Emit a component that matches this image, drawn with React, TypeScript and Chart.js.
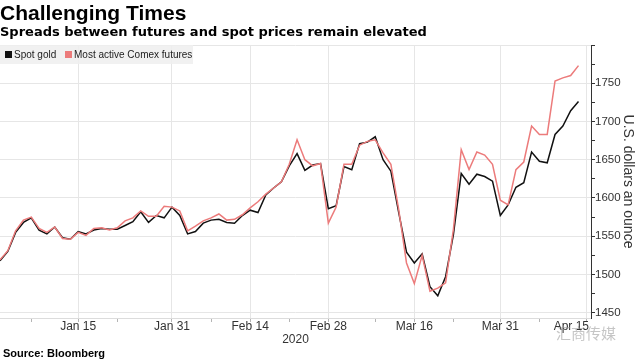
import { useEffect, useRef } from 'react';
import { Chart, registerables } from 'chart.js';

Chart.register(...registerables);

// Trading days (weekdays) shown on the axis, Jan 1 – Apr 15, 2020
const dates = [
  'Jan 1', 'Jan 2', 'Jan 3', 'Jan 6', 'Jan 7', 'Jan 8', 'Jan 9', 'Jan 10', 'Jan 13', 'Jan 14',
  'Jan 15', 'Jan 16', 'Jan 17', 'Jan 20', 'Jan 21', 'Jan 22', 'Jan 23', 'Jan 24', 'Jan 27', 'Jan 28',
  'Jan 29', 'Jan 30', 'Jan 31', 'Feb 3', 'Feb 4', 'Feb 5', 'Feb 6', 'Feb 7', 'Feb 10', 'Feb 11',
  'Feb 12', 'Feb 13', 'Feb 14', 'Feb 17', 'Feb 18', 'Feb 19', 'Feb 20', 'Feb 21', 'Feb 24', 'Feb 25',
  'Feb 26', 'Feb 27', 'Feb 28', 'Mar 2', 'Mar 3', 'Mar 4', 'Mar 5', 'Mar 6', 'Mar 9', 'Mar 10',
  'Mar 11', 'Mar 12', 'Mar 13', 'Mar 16', 'Mar 17', 'Mar 18', 'Mar 19', 'Mar 20', 'Mar 23', 'Mar 24',
  'Mar 25', 'Mar 26', 'Mar 27', 'Mar 30', 'Mar 31', 'Apr 1', 'Apr 2', 'Apr 3', 'Apr 6', 'Apr 7',
  'Apr 8', 'Apr 9', 'Apr 10', 'Apr 13', 'Apr 14', 'Apr 15',
];

const spotGold = [
  1518, 1530, 1555, 1568, 1574, 1558, 1553, 1562, 1548, 1546,
  1556, 1553, 1558, 1560, 1559, 1559, 1564, 1569, 1582, 1568,
  1577, 1574, 1588, 1577, 1553, 1556, 1567, 1571, 1572, 1568,
  1567, 1577, 1584, 1581, 1604, 1613, 1621, 1642, 1658, 1636,
  1643, 1645, 1586, 1590, 1641, 1637, 1671, 1673, 1680, 1650,
  1635, 1581, 1529, 1515, 1527, 1484, 1472, 1497, 1552, 1632,
  1618, 1631, 1628, 1622, 1577, 1591, 1614, 1620, 1660, 1648,
  1646, 1683, 1694, 1714, 1726,
];

const comexFutures = [
  1519, 1531, 1557, 1571, 1575, 1560, 1555, 1562, 1547, 1546,
  1555, 1551, 1560, 1561, 1558, 1561, 1570, 1574, 1583, 1576,
  1576, 1589, 1588, 1583, 1557, 1563, 1570, 1574, 1579, 1571,
  1572, 1578, 1587, 1595, 1605, 1613, 1621, 1644, 1676, 1650,
  1642, 1645, 1567, 1588, 1644, 1644, 1669, 1674, 1676, 1659,
  1644, 1585, 1515, 1488, 1525, 1478, 1482, 1489, 1559, 1663,
  1637, 1660, 1656, 1644, 1597, 1591, 1637, 1647, 1694, 1683,
  1683, 1753, 1757, 1760, 1773,
];

const seriesNames = ['Spot gold', 'Most active Comex futures'];
const majorTickDates = ['Jan 15', 'Jan 31', 'Feb 14', 'Feb 28', 'Mar 16', 'Mar 31', 'Apr 15'];
const minorTickDates = ['Jan 7', 'Jan 22', 'Feb 7', 'Feb 21', 'Mar 9', 'Mar 23', 'Apr 7'];
const yearLabel = '2020';
const yTickValues = [1450, 1475, 1500, 1525, 1550, 1575, 1600, 1625, 1650, 1675, 1700, 1725, 1750, 1775, 1800];
const yLabelValues = [1450, 1500, 1550, 1600, 1650, 1700, 1750];

const FONT = '"Liberation Sans", Arial, sans-serif';
const BLACK = '#111111';
const RED = '#ec7b7b';

const xLabelPlugin = {
  id: 'xLabels',
  afterDraw(chart: any) {
    const { ctx, chartArea } = chart;
    const x = chart.scales.x;
    ctx.save();
    ctx.font = `12px ${FONT}`;
    ctx.fillStyle = '#333333';
    ctx.textBaseline = 'top';
    ctx.textAlign = 'center';
    majorTickDates.forEach((d) => {
      const px = x.getPixelForValue(dates.indexOf(d));
      const w = ctx.measureText(d).width;
      const cx = Math.min(px, chartArea.right - w / 2 - 2);
      ctx.fillText(d, cx, chartArea.bottom + 3);
    });
    ctx.fillText(yearLabel, (chartArea.left + chartArea.right) / 2, chartArea.bottom + 16);
    ctx.restore();
  },
};

export default function App() {
  const canvasRef = useRef<HTMLCanvasElement | null>(null);

  useEffect(() => {
    if (!canvasRef.current) return;
    const chart = new Chart(canvasRef.current, {
      type: 'line',
      data: {
        datasets: [
          {
            label: seriesNames[0],
            data: spotGold.map((v, i) => ({ x: i, y: v })),
            borderColor: BLACK,
            borderWidth: 1.5,
            pointRadius: 0,
            tension: 0,
            order: 2,
          },
          {
            label: seriesNames[1],
            data: comexFutures.map((v, i) => ({ x: i, y: v })),
            borderColor: RED,
            borderWidth: 1.5,
            pointRadius: 0,
            tension: 0,
            order: 1,
          },
        ],
      },
      options: {
        animation: false,
        responsive: false,
        events: [],
        layout: { padding: { top: 45, left: 0, right: 0, bottom: 0 } },
        plugins: {
          legend: { display: false },
          tooltip: { enabled: false },
          title: { display: false },
        },
        scales: {
          x: {
            type: 'linear',
            min: 0,
            max: dates.length - 0.4,
            afterBuildTicks: (scale: any) => {
              scale.ticks = [...majorTickDates, ...minorTickDates]
                .map((d) => dates.indexOf(d))
                .sort((a, b) => a - b)
                .map((v) => ({ value: v }));
            },
            afterFit: (scale: any) => {
              scale.height = 42;
            },
            ticks: { display: false },
            grid: {
              color: (ctx: any) =>
                ctx.tick && majorTickDates.map((d) => dates.indexOf(d)).includes(ctx.tick.value)
                  ? '#e6e6e6'
                  : 'rgba(0,0,0,0)',
              tickColor: '#b5b5b5',
              tickLength: 4,
              drawTicks: true,
            },
            border: { display: true, color: '#dcdcdc', width: 1 },
          },
          y: {
            type: 'linear',
            position: 'right',
            min: 1443,
            max: 1800,
            afterBuildTicks: (scale: any) => {
              scale.ticks = yTickValues.map((v) => ({ value: v }));
            },
            afterFit: (scale: any) => {
              scale.width = 49;
            },
            ticks: {
              autoSkip: false,
              padding: 0,
              color: '#333333',
              font: { family: FONT, size: 11.5 },
              callback: (v: any) => (yLabelValues.includes(Number(v)) ? String(v) : ''),
            },
            grid: {
              color: (ctx: any) =>
                ctx.tick && ctx.tick.value % 50 === 0 ? '#e6e6e6' : 'rgba(0,0,0,0)',
              tickColor: '#333333',
              tickLength: 4,
              drawTicks: true,
            },
            border: { display: true, color: '#333333', width: 1 },
            title: {
              display: true,
              text: 'U.S. dollars an ounce',
              color: '#333333',
              font: { family: FONT, size: 14 },
              padding: { top: 4, bottom: 0 },
            },
          },
        },
      },
      plugins: [xLabelPlugin],
    } as any);
    return () => chart.destroy();
  }, []);

  return (
    <div
      style={{
        position: 'absolute',
        left: 0,
        top: 0,
        width: 640,
        height: 360,
        background: '#ffffff',
        overflow: 'hidden',
        fontFamily: FONT,
      }}
    >
      <canvas ref={canvasRef} width={640} height={360} style={{ position: 'absolute', left: 0, top: 0 }} />
      <div
        style={{
          position: 'absolute',
          left: 0,
          top: 2,
          fontSize: 21,
          lineHeight: '21px',
          fontWeight: 'bold',
          color: '#000',
          whiteSpace: 'nowrap',
        }}
      >
        Challenging Times
      </div>
      <div
        style={{
          position: 'absolute',
          left: 0,
          top: 25,
          fontSize: 13,
          lineHeight: '13px',
          fontWeight: 'bold',
          fontFamily: '"DejaVu Sans", sans-serif',
          color: '#000',
          whiteSpace: 'nowrap',
        }}
      >
        Spreads between futures and spot prices remain elevated
      </div>
      <div
        style={{
          position: 'absolute',
          left: 0,
          top: 45,
          width: 193,
          height: 19,
          background: 'rgba(238,238,238,0.85)',
          fontSize: 10,
          lineHeight: '19px',
          color: '#222',
          whiteSpace: 'nowrap',
        }}
      >
        <span style={{ position: 'absolute', left: 5, top: 6, width: 7, height: 7, background: BLACK }} />
        <span style={{ position: 'absolute', left: 14, top: 0 }}>{seriesNames[0]}</span>
        <span style={{ position: 'absolute', left: 65, top: 6, width: 7, height: 7, background: RED }} />
        <span style={{ position: 'absolute', left: 74, top: 0 }}>{seriesNames[1]}</span>
      </div>
      <div
        style={{
          position: 'absolute',
          left: 3,
          top: 348,
          fontSize: 11,
          lineHeight: '11px',
          fontWeight: 'bold',
          color: '#000',
          whiteSpace: 'nowrap',
        }}
      >
        Source: Bloomberg
      </div>
      <div
        style={{
          position: 'absolute',
          left: 556,
          top: 325,
          fontSize: 15,
          lineHeight: '15px',
          fontFamily: '"Noto Sans CJK SC", sans-serif',
          color: 'rgba(150,150,150,0.55)',
          whiteSpace: 'nowrap',
        }}
      >
        汇商传媒
      </div>
    </div>
  );
}
